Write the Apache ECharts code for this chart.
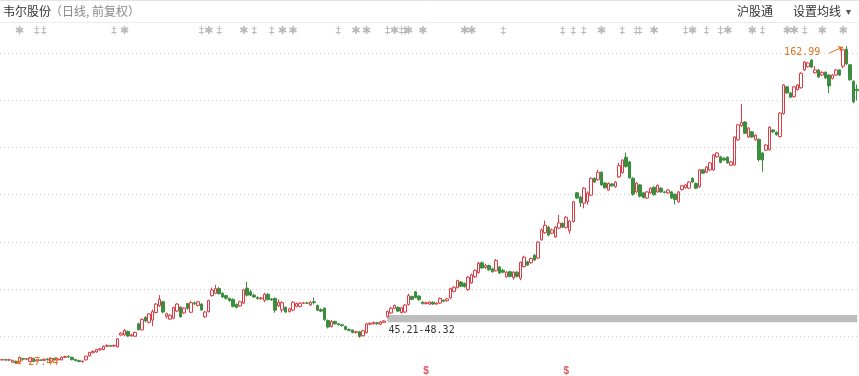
<!DOCTYPE html>
<html>
<head>
<meta charset="utf-8">
<title>韦尔股份 日线</title>
<script src="https://cdn.jsdelivr.net/npm/echarts@6/dist/echarts.min.js"></script>
<style>
  html, body { margin: 0; padding: 0; background: #fff; }
  #chart { width: 859px; height: 376px; }
</style>
</head>
<body>
<div id="chart"></div>
<script>
// 日K数据 [开盘, 收盘, 最低, 最高]，从图上估读（前复权）
const candles = [
  [29.2,29.3,29.0,29.5],[29.4,29.1,28.9,29.6],[29.1,29.3,28.8,29.6],[28.2,29.0,28.0,29.3],[28.6,28.1,27.44,28.9],
  [28.3,30.2,28.0,30.6],[29.8,29.5,29.2,30.1],[29.5,29.7,29.2,30.0],[28.6,30.0,28.3,30.4],[29.8,28.5,28.2,30.1],
  [28.8,29.2,28.6,29.6],[29.2,29.0,28.7,29.5],[29.0,29.5,28.8,29.8],[29.6,29.3,29.0,29.9],[28.6,29.8,28.3,30.1],
  [29.8,29.2,28.9,30.2],[29.2,29.6,29.0,30.0],[29.2,30.3,29.0,30.6],[30.3,30.6,30.0,31.0],[30.6,30.4,30.1,31.2],
  [30.3,29.3,29.0,30.5],[29.4,28.9,28.6,29.6],[29.0,28.5,28.2,29.2],[28.4,28.7,28.1,28.9],[29.2,30.8,29.0,31.0],
  [30.9,32.4,30.6,32.6],[32.3,32.8,32.0,33.2],[32.6,33.6,32.3,33.9],[33.5,33.9,33.2,34.3],[33.6,35.0,33.3,35.3],
  [35.0,35.4,34.7,35.8],[35.3,35.0,34.7,35.6],[35.1,35.4,34.8,35.7],[34.8,38.2,34.5,38.5],[39.8,40.6,39.5,41.0],
  [39.9,41.8,39.5,42.4],[41.3,39.4,39.0,41.7],[39.5,39.9,39.1,40.3],[39.3,40.9,39.0,41.3],[44.6,42.1,41.7,45.1],
  [42.0,46.5,41.8,46.9],[47.3,45.8,45.2,47.9],[45.2,48.8,44.8,49.2],[46.2,49.8,43.6,50.6],[49.4,53.0,49.0,53.5],
  [52.3,55.0,51.8,56.8],[54.0,49.6,49.0,54.4],[47.8,48.9,46.8,49.3],[46.6,48.2,46.2,48.8],[47.0,51.5,46.6,51.8],
  [50.0,53.0,49.6,53.4],[51.7,47.6,47.2,52.0],[49.2,51.3,48.8,51.7],[53.2,51.2,50.6,53.5],[49.5,53.6,49.2,54.4],
  [53.5,53.1,52.6,54.1],[52.4,54.0,52.0,54.3],[53.0,50.5,50.1,53.4],[47.6,49.6,47.1,50.1],[49.8,54.5,49.4,54.9],
  [56.6,59.0,56.2,60.0],[57.6,59.6,57.2,61.2],[59.6,57.4,57.0,60.3],[57.6,56.0,55.6,58.0],[56.6,55.5,54.9,57.0],
  [55.4,54.5,54.0,55.8],[55.0,52.0,51.6,55.4],[52.8,51.6,51.2,53.3],[52.2,54.0,51.8,54.4],[53.4,59.0,53.0,59.5],
  [59.8,56.8,56.2,62.5],[58.2,56.8,56.4,59.2],[56.8,56.0,55.6,57.4],[55.8,55.4,54.8,56.3],[55.3,55.6,54.8,56.0],
  [54.6,57.2,53.8,57.8],[57.2,55.0,54.5,57.6],[55.2,54.8,54.3,55.6],[55.4,50.4,49.3,55.8],[52.2,53.8,51.8,55.0],
  [50.5,53.6,49.4,54.2],[51.6,49.6,49.2,52.0],[49.8,51.0,49.4,51.4],[50.4,53.8,50.0,54.2],[52.0,53.2,51.6,53.6],
  [52.0,53.4,51.6,53.8],[53.4,53.5,53.0,53.9],[53.5,53.4,53.0,54.0],[52.6,53.8,52.2,54.2],[54.0,53.6,52.8,55.8],
  [52.4,50.4,50.0,52.8],[50.6,50.0,49.6,51.2],[51.2,46.4,45.8,51.7],[46.0,43.2,42.6,46.4],[43.4,45.6,43.0,46.2],
  [45.6,44.6,44.2,46.0],[44.6,44.2,43.8,45.0],[44.2,43.8,43.4,44.6],[43.4,42.2,41.8,43.8],[42.2,41.8,41.4,42.6],
  [41.9,40.9,40.5,42.2],[40.9,41.2,40.4,41.6],[41.2,39.2,38.6,41.5],[39.5,41.6,39.2,42.0],[40.8,44.6,40.5,45.0],
  [44.4,44.8,44.0,45.2],[44.6,45.2,44.2,45.6],[45.0,44.6,44.2,45.4],[44.4,45.4,44.0,45.8],[45.2,45.8,44.9,46.2],
  [47.6,49.8,47.2,50.2],[49.2,51.2,48.8,51.8],[51.2,52.4,50.8,52.8],[51.6,50.0,49.6,52.0],[49.4,51.4,49.0,51.8],
  [49.6,52.6,49.2,53.0],[52.8,56.6,52.4,57.4],[56.2,55.0,54.6,56.6],[58.2,55.8,55.4,58.6],[56.4,54.9,54.4,56.8],
  [53.8,53.2,52.8,54.2],[53.2,53.6,52.8,54.0],[53.0,53.9,52.6,54.2],[53.8,53.0,52.6,54.2],[53.0,53.4,52.6,53.8],
  [53.4,55.4,53.0,55.8],[54.6,54.2,53.8,55.0],[54.4,55.2,54.0,55.6],[55.6,59.6,55.2,60.0],[58.4,60.2,58.0,60.6],
  [60.0,63.0,59.6,63.4],[62.4,60.6,60.2,62.8],[61.8,60.4,60.0,62.2],[59.2,64.4,58.6,65.0],[62.0,65.4,61.6,66.0],
  [64.6,67.4,64.2,67.8],[66.4,70.4,66.0,71.0],[70.6,68.4,68.0,71.2],[68.6,69.4,68.0,70.2],[69.4,67.6,67.2,69.8],
  [68.0,66.8,66.4,68.6],[67.2,71.6,66.8,72.2],[68.8,66.2,65.8,69.2],[67.4,66.6,66.2,68.0],[64.6,66.6,64.2,67.0],
  [66.8,64.8,64.4,67.2],[64.2,66.6,63.4,67.0],[66.6,64.8,64.4,67.0],[64.0,70.8,63.2,71.2],[69.0,73.0,68.6,73.6],
  [71.0,69.6,69.2,71.4],[70.6,72.4,70.2,72.8],[73.8,71.8,71.4,74.4],[72.6,79.4,72.2,79.8],[80.4,84.6,80.0,85.2],
  [83.4,86.6,83.0,88.6],[85.8,82.4,82.0,86.4],[83.2,84.6,82.8,85.2],[81.6,85.8,81.2,86.2],[85.4,87.6,85.0,91.0],
  [87.4,85.8,85.4,87.8],[85.6,90.0,85.2,90.6],[84.2,88.4,83.0,88.8],[88.2,96.6,87.8,97.0],[100.4,98.2,97.8,100.8],
  [98.6,96.2,94.4,99.0],[96.0,102.4,93.8,102.8],[96.6,100.4,95.4,101.0],[99.4,106.6,99.0,107.0],[106.6,105.0,104.6,107.0],
  [106.0,109.2,105.6,110.2],[109.2,103.8,103.4,109.6],[104.6,102.6,102.2,105.0],[101.6,104.4,101.2,104.8],[104.2,103.4,103.0,104.6],
  [103.0,105.0,102.6,105.4],[107.2,112.0,106.8,113.2],[109.0,114.4,108.6,114.8],[115.6,111.6,111.2,117.6],[113.6,106.8,106.4,114.0],
  [106.6,99.8,99.2,107.0],[100.8,104.6,100.4,105.0],[103.8,99.0,98.4,104.2],[100.4,98.4,98.0,100.8],[98.2,100.8,97.8,101.2],
  [100.4,102.4,100.0,102.8],[102.8,99.6,99.2,103.2],[100.8,103.6,100.4,104.0],[102.4,100.8,100.4,102.8],[100.8,100.6,100.2,101.2],
  [100.4,101.6,100.0,102.0],[100.8,98.2,97.8,101.2],[99.8,97.6,95.4,100.2],[96.6,100.8,96.2,101.2],[101.8,103.4,101.4,103.8],
  [102.6,103.8,102.2,104.2],[102.4,105.0,102.0,105.4],[106.6,105.0,104.6,107.0],[104.4,102.4,102.0,104.8],[103.0,110.2,102.6,110.6],
  [110.2,108.8,108.4,110.6],[109.2,111.4,108.8,111.8],[110.2,113.2,109.8,113.6],[110.2,116.6,109.8,117.0],[115.8,117.4,115.4,117.8],
  [115.8,113.4,113.0,116.2],[115.2,114.4,114.0,115.6],[115.6,113.2,112.8,116.0],[112.2,113.6,111.8,114.0],[112.4,124.2,112.0,124.6],
  [123.0,129.4,122.6,129.8],[129.0,130.4,128.6,138.3],[130.6,125.8,125.4,131.0],[124.2,128.0,123.8,128.4],[126.4,124.2,123.8,126.8],
  [123.0,125.0,122.6,125.4],[123.2,114.6,113.8,123.6],[117.4,114.4,109.4,117.8],[118.6,120.8,118.2,121.2],[118.8,128.4,118.4,128.8],
  [127.2,126.4,126.0,127.6],[126.2,125.2,124.8,126.6],[124.4,134.4,124.0,134.8],[134.2,146.4,133.8,146.8],[145.6,143.0,142.6,146.0],
  [143.0,141.2,140.8,143.4],[141.4,145.6,141.0,146.0],[144.4,146.4,144.0,146.8],[145.2,151.4,144.8,151.8],[152.8,156.2,152.4,156.6],
  [154.2,155.8,153.8,156.2],[157.0,154.0,153.6,157.4],[151.6,152.8,151.2,154.4],[152.8,149.8,149.4,153.2],[150.6,151.8,150.2,152.2],
  [151.8,149.4,149.0,152.2],[150.6,146.0,142.9,151.0],[149.2,150.6,148.8,151.0],[150.6,152.8,150.2,153.2],[152.8,150.6,150.2,153.2],
  [154.4,161.4,153.6,161.8],[161.6,155.4,155.0,162.99],[155.0,148.6,148.2,155.4],[148.0,139.2,138.6,148.4],[144.6,144.0,139.8,146.6]
];
const days = candles.map((_, i) => 'D' + (i + 1));

// 顶部事件标记（K线序号, 符号）
const eventIdx  = [5, 10, 12, 32, 35, 57, 59, 62, 69, 72, 77, 80, 83, 96, 101, 104, 110, 112, 114, 115, 116, 120, 132, 134, 143,
                   160, 163, 166, 171, 177, 181, 182, 186, 195, 197, 201, 205, 207, 214, 217, 224, 226, 229, 234, 240];
const eventMark = ['✱','‡','‡','‡','✱','‡','✱','‡','✱','‡','‡','✱','✱','‡','✱','✱','‡','✱','‡','‡','✱','✱','✱','✱','‡',
                   '‡','‡','‡','✱','‡','‡','‡','✱','‡','✱','‡','‡','✱','✱','‡','✱','✱','‡','✱','✱'];
// 底部分红标记
const dividendIdx = [121, 161];

// 筹码区间条
const bandLow = 45.21;
const bandHigh = 48.32;
const bandStart = 110;

const RED = '#dc3c46';
const GREEN = '#3b8e3e';
const ORANGE = '#e07020';
const GRIDLINE = '#cfcfcf';
const NONE = 'rgba(0,0,0,0)';

// 最高价 / 最低价位置
let maxIdx = 0, minIdx = 0;
candles.forEach((c, i) => {
  if (c[3] > candles[maxIdx][3]) maxIdx = i;
  if (c[2] < candles[minIdx][2]) minIdx = i;
});
const maxHigh = candles[maxIdx][3];
const minLow = candles[minIdx][2];

const chart = echarts.init(document.getElementById('chart'));
const cjk = '"Noto Sans CJK SC", sans-serif';

chart.setOption({
  animation: false,
  backgroundColor: '#fff',
  grid: [
    { left: 0, right: 0, top: 6, bottom: 0 },
    { left: 0, right: 0, top: 25, height: 12 },
    { left: 0, right: 0, top: 366, height: 10 }
  ],
  xAxis: [0, 1, 2].map(g => ({
    type: 'category', gridIndex: g, data: days, boundaryGap: true, show: false
  })),
  yAxis: [
    { type: 'value', gridIndex: 0, min: 22.34, max: 180.05, show: false, splitLine: { show: false } },
    {
      // 只用来画虚线网格（从上往下数），最上一条藏在标题栏下
      type: 'value', gridIndex: 0, inverse: true, min: 0, max: 7.844, interval: 1,
      axisLine: { show: false }, axisTick: { show: false }, axisLabel: { show: false },
      splitLine: {
        show: true,
        lineStyle: {
          color: [NONE, GRIDLINE, GRIDLINE, GRIDLINE, GRIDLINE, GRIDLINE, GRIDLINE, GRIDLINE, NONE],
          type: [1, 3], width: 1
        }
      }
    },
    { type: 'value', gridIndex: 1, min: 0, max: 1, show: false },
    { type: 'value', gridIndex: 2, min: 0, max: 1, show: false }
  ],
  series: [
    {
      type: 'candlestick',
      xAxisIndex: 0, yAxisIndex: 0,
      data: candles,
      barWidth: 3,
      itemStyle: {
        color: '#fff', color0: GREEN,
        borderColor: RED, borderColor0: GREEN, borderWidth: 1
      },
      markArea: {
        silent: true,
        itemStyle: { color: '#bdbdbd' },
        label: {
          show: true, position: [1, 10],
          formatter: bandLow.toFixed(2) + '-' + bandHigh.toFixed(2),
          color: '#333', fontSize: 10, fontFamily: '"DejaVu Sans Mono", monospace'
        },
        data: [[
          { xAxis: days[bandStart], yAxis: bandLow },
          { xAxis: days[days.length - 1], yAxis: bandHigh }
        ]]
      },
      markPoint: {
        silent: true,
        symbol: 'circle', symbolSize: 1,
        itemStyle: { color: NONE },
        label: {
          show: true, color: ORANGE, fontSize: 10,
          fontFamily: '"DejaVu Sans Mono", monospace',
          formatter: p => p.value.toFixed(2)
        },
        data: [
          { coord: [days[maxIdx], maxHigh], value: maxHigh,
            label: { position: 'left', distance: 26, offset: [0, 6] } },
          { coord: [days[minIdx], minLow], value: minLow,
            label: { position: 'right', distance: 12, offset: [0, -2] } }
        ]
      },
      markLine: {
        silent: true,
        symbol: ['none', 'arrow'], symbolSize: 5,
        label: { show: false },
        lineStyle: { color: ORANGE, width: 1, type: 'solid' },
        data: [
          [{ coord: [days[maxIdx - 5], maxHigh - 3] }, { coord: [days[maxIdx - 1], maxHigh - 0.4] }],
          [{ coord: [days[minIdx + 2], minLow + 1.6] }, { coord: [days[minIdx], minLow + 0.2] }]
        ]
      }
    },
    {
      type: 'scatter', xAxisIndex: 1, yAxisIndex: 2, silent: true,
      symbolSize: 1, itemStyle: { color: NONE },
      label: { show: true, position: 'inside', color: '#a8a8a8', fontSize: 11, fontFamily: '"DejaVu Sans", sans-serif' },
      data: eventIdx.map((d, k) => ({ value: [d, 0.5], label: { formatter: eventMark[k] } }))
    },
    {
      type: 'scatter', xAxisIndex: 2, yAxisIndex: 3, silent: true,
      symbolSize: 1, itemStyle: { color: NONE },
      label: { show: true, position: 'inside', formatter: '$', color: '#d9282f', fontSize: 10, fontWeight: 'bold' },
      data: dividendIdx.map(d => [d, 0.5])
    }
  ],
  graphic: [
    { type: 'line', shape: { x1: 0, y1: 0.5, x2: 859, y2: 0.5 }, style: { stroke: '#e4e4e4', lineWidth: 1 } },
    { type: 'line', shape: { x1: 0, y1: 22.5, x2: 859, y2: 22.5 }, style: { stroke: '#ececec', lineWidth: 1 } },
    { type: 'text', left: 3, top: 5, style: { text: '韦尔股份', fill: '#333', font: '12px ' + cjk } },
    { type: 'text', left: 50, top: 5, style: { text: '（日线, 前复权）', fill: '#888', font: '12px ' + cjk } },
    { type: 'text', left: 737, top: 5, style: { text: '沪股通', fill: '#333', font: '12px ' + cjk } },
    { type: 'text', left: 793, top: 5, style: { text: '设置均线', fill: '#333', font: '12px ' + cjk } },
    { type: 'text', left: 846, top: 7, style: { text: '▾', fill: '#555', font: '10px "DejaVu Sans", sans-serif' } }
  ]
});
</script>
</body>
</html>
